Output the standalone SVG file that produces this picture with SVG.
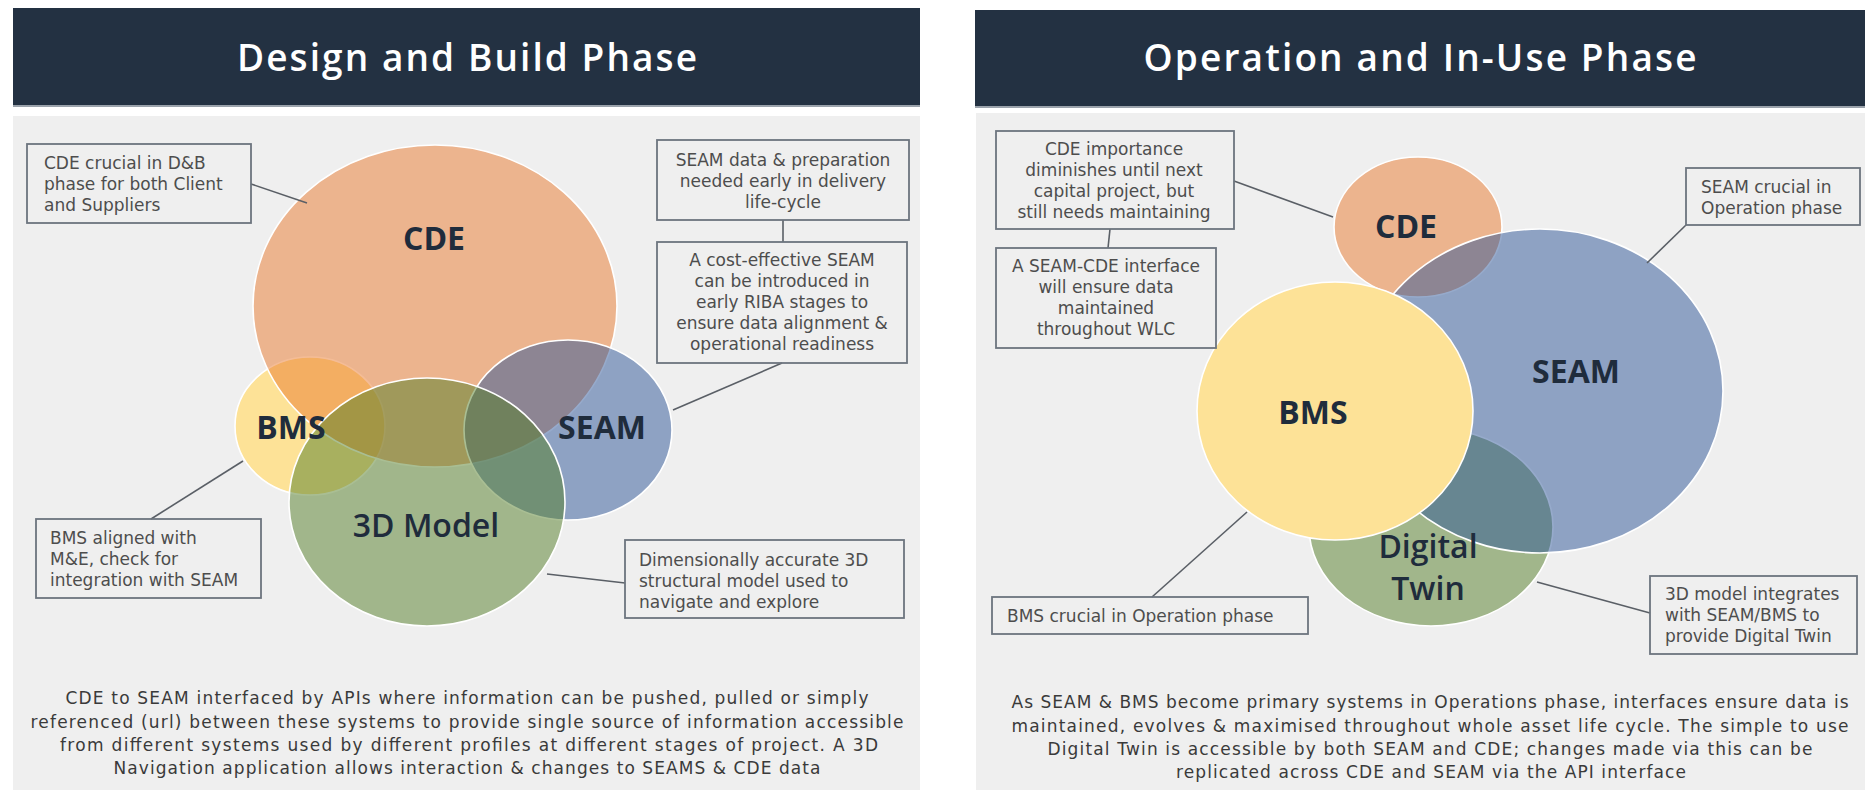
<svg xmlns="http://www.w3.org/2000/svg" width="1865" height="792" viewBox="0 0 1865 792">
<style>
.hdr{fill:#233142}
.title{font-family:"Open Sans",sans-serif;font-weight:600;font-size:37px;fill:#ffffff;text-anchor:middle}
.panel{fill:#efefef}
.c{stroke:#ffffff;stroke-width:1.6}
.lbl{font-family:"Open Sans",sans-serif;font-weight:bold;font-size:32px;fill:#1f2c3c;text-anchor:middle}
.lbl2{font-family:"Open Sans",sans-serif;font-weight:600;font-size:32px;fill:#1f2c3c;text-anchor:middle}
.box{fill:none;stroke:#6c747e;stroke-width:1.8}
.ct{font-family:"DejaVu Sans",sans-serif;font-size:17px;fill:#4d4d4d}
.mid{text-anchor:middle}
.body{font-family:"DejaVu Sans",sans-serif;font-size:17px;fill:#3a3a3a;text-anchor:middle}
.conn line{stroke:#5a5f66;stroke-width:1.6}
</style>
<rect width="1865" height="792" fill="#ffffff"/>

<g id="left-header">
<rect class="hdr" x="13" y="8" width="907" height="98"/>
<rect x="13" y="105" width="907" height="2" fill="#9aa2ab"/>
<text class="title" x="467" y="71" textLength="460">Design and Build Phase</text>
</g>
<g id="right-header">
<rect class="hdr" x="975" y="10" width="890" height="97"/>
<rect x="975" y="106" width="890" height="2" fill="#9aa2ab"/>
<text class="title" x="1420" y="71" textLength="553">Operation and In-Use Phase</text>
</g>

<rect class="panel" x="13" y="116" width="907" height="674"/>
<rect class="panel" x="976" y="113" width="889" height="677"/>

<!-- left venn -->
<g id="dab-bms"><ellipse class="c" cx="310" cy="426" rx="75" ry="69" fill="#fde297"/></g>
<g id="dab-cde"><ellipse class="c" cx="435" cy="306" rx="182" ry="161" fill="#ea7a2e" fill-opacity="0.5"/></g>
<g id="dab-seam"><ellipse class="c" cx="568" cy="430" rx="104" ry="90" fill="#2e5698" fill-opacity="0.5"/></g>
<g id="dab-3d"><ellipse class="c" cx="427" cy="502" rx="138" ry="124" fill="#547e28" fill-opacity="0.5"/></g>
<text class="lbl" x="434" y="250">CDE</text>
<text class="lbl" x="291" y="439">BMS</text>
<text class="lbl" x="602" y="439">SEAM</text>
<text class="lbl2" x="426" y="537">3D Model</text>

<!-- right venn -->
<g id="op-cde"><ellipse class="c" cx="1418" cy="227" rx="84" ry="70" fill="#ea7a2e" fill-opacity="0.5"/></g>
<g id="op-twin"><ellipse class="c" cx="1431" cy="527" rx="122" ry="99" fill="#547e28" fill-opacity="0.5"/></g>
<g id="op-seam"><ellipse class="c" cx="1540" cy="391" rx="183" ry="162" fill="#2e5698" fill-opacity="0.5"/></g>
<g id="op-bms"><ellipse class="c" cx="1335" cy="411" rx="138" ry="129" fill="#fde297"/></g>
<text class="lbl" x="1406" y="238">CDE</text>
<text class="lbl" x="1576" y="383">SEAM</text>
<text class="lbl" x="1313" y="424">BMS</text>
<text class="lbl2" x="1428" y="558">Digital</text>
<text class="lbl2" x="1428" y="600">Twin</text>

<!-- connectors -->
<g id="connectors" class="conn">
<line x1="251" y1="184" x2="307" y2="203"/>
<line x1="783" y1="220" x2="783" y2="242"/>
<line x1="782" y1="363" x2="673" y2="410"/>
<line x1="151" y1="519" x2="243" y2="461"/>
<line x1="547" y1="574" x2="625" y2="583"/>
<line x1="1234" y1="181" x2="1333" y2="217"/>
<line x1="1110" y1="229" x2="1108" y2="248"/>
<line x1="1686" y1="225" x2="1647" y2="263"/>
<line x1="1152" y1="597" x2="1247" y2="512"/>
<line x1="1537" y1="582" x2="1650" y2="613"/>
</g>

<!-- left callouts -->
<g id="note-cde-db">
<rect class="box" x="27" y="144" width="224" height="79"/>
<text class="ct" x="44" y="169">CDE crucial in D&amp;B</text>
<text class="ct" x="44" y="190">phase for both Client</text>
<text class="ct" x="44" y="211">and Suppliers</text>
</g>
<g id="note-seam-early">
<rect class="box" x="657" y="140" width="252" height="80"/>
<text class="ct mid" x="783" y="166">SEAM data &amp; preparation</text>
<text class="ct mid" x="783" y="187">needed early in delivery</text>
<text class="ct mid" x="783" y="208">life-cycle</text>
</g>
<g id="note-seam-cost">
<rect class="box" x="657" y="242" width="250" height="121"/>
<text class="ct mid" x="782" y="266">A cost-effective SEAM</text>
<text class="ct mid" x="782" y="287">can be introduced in</text>
<text class="ct mid" x="782" y="308">early RIBA stages to</text>
<text class="ct mid" x="782" y="329">ensure data alignment &amp;</text>
<text class="ct mid" x="782" y="350">operational readiness</text>
</g>
<g id="note-bms-db">
<rect class="box" x="36" y="519" width="225" height="79"/>
<text class="ct" x="50" y="544">BMS  aligned with</text>
<text class="ct" x="50" y="565">M&amp;E, check for</text>
<text class="ct" x="50" y="586">integration with SEAM</text>
</g>
<g id="note-3d">
<rect class="box" x="625" y="540" width="279" height="78"/>
<text class="ct" x="639" y="566">Dimensionally accurate 3D</text>
<text class="ct" x="639" y="587">structural model used  to</text>
<text class="ct" x="639" y="608">navigate and  explore</text>
</g>
<g id="summary-db">
<text class="body" x="467" y="704" textLength="803">CDE to SEAM interfaced by APIs where information can be pushed, pulled or simply</text>
<text class="body" x="467" y="728" textLength="873">referenced (url) between these systems to provide single source of information accessible</text>
<text class="body" x="469" y="751" textLength="818">from different systems used by different profiles at different stages of project. A 3D</text>
<text class="body" x="467" y="774" textLength="707">Navigation application allows interaction &amp; changes to SEAMS &amp; CDE data</text>
</g>

<!-- right callouts -->
<g id="note-cde-op">
<rect class="box" x="996" y="131" width="238" height="98"/>
<text class="ct mid" x="1114" y="155">CDE importance</text>
<text class="ct mid" x="1114" y="176">diminishes until next</text>
<text class="ct mid" x="1114" y="197">capital project, but</text>
<text class="ct mid" x="1114" y="218">still needs maintaining</text>
</g>
<g id="note-interface">
<rect class="box" x="996" y="248" width="220" height="100"/>
<text class="ct mid" x="1106" y="272">A SEAM-CDE interface</text>
<text class="ct mid" x="1106" y="293">will ensure data</text>
<text class="ct mid" x="1106" y="314">maintained</text>
<text class="ct mid" x="1106" y="335">throughout WLC</text>
</g>
<g id="note-seam-op">
<rect class="box" x="1686" y="168" width="174" height="57"/>
<text class="ct" x="1701" y="193">SEAM crucial  in</text>
<text class="ct" x="1701" y="214">Operation phase</text>
</g>
<g id="note-bms-op">
<rect class="box" x="992" y="597" width="316" height="37"/>
<text class="ct" x="1007" y="622">BMS crucial in Operation phase</text>
</g>
<g id="note-twin">
<rect class="box" x="1650" y="576" width="207" height="78"/>
<text class="ct" x="1665" y="600">3D model integrates</text>
<text class="ct" x="1665" y="621">with SEAM/BMS to</text>
<text class="ct" x="1665" y="642">provide Digital Twin</text>
</g>
<g id="summary-op">
<text class="body" x="1430" y="708" textLength="837">As SEAM &amp; BMS become primary systems in Operations phase, interfaces ensure data is</text>
<text class="body" x="1430" y="732" textLength="837">maintained, evolves &amp; maximised throughout whole asset life cycle.  The simple to use</text>
<text class="body" x="1430" y="755" textLength="765">Digital Twin is accessible by both SEAM and CDE; changes made via this  can be</text>
<text class="body" x="1431" y="778" textLength="510">replicated across CDE and SEAM via the API interface</text>
</g>
</svg>
